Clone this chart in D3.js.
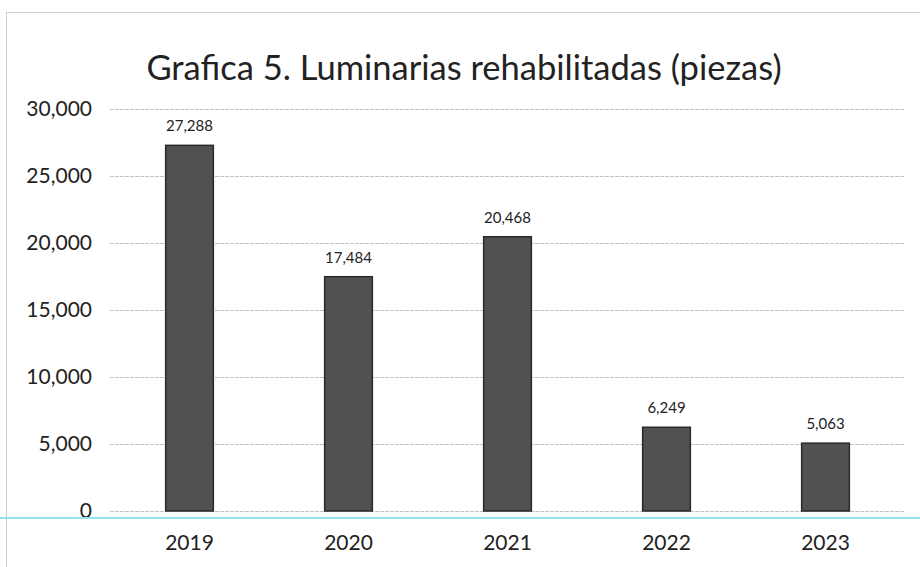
<!DOCTYPE html>
<html>
<head>
<meta charset="utf-8">
<script src="https://cdn.jsdelivr.net/npm/d3@7"></script>
<style>
  body { margin: 0; background: #fff; }
  svg { display: block; font-family: Lato, "Open Sans", sans-serif; }
</style>
</head>
<body>
<svg id="chart" width="920" height="567"></svg>
<script>
// Data
const years = ["2019", "2020", "2021", "2022", "2023"];
const values = [27288, 17484, 20468, 6249, 5063];
const yTicks = [0, 5000, 10000, 15000, 20000, 25000, 30000];

const svg = d3.select("#chart");
const margin = { top: 109, right: 15, bottom: 56, left: 110 };
const width = 920 - margin.left - margin.right;
const height = 567 - margin.top - margin.bottom;

// outer frame (dotted, like the scanned box)
svg.append("rect")
  .attr("x", 6.5).attr("y", 12.5)
  .attr("width", 930).attr("height", 560)
  .attr("fill", "none")
  .attr("stroke", "#9a9a9a")
  .attr("stroke-dasharray", "1,1");

// title
svg.append("text")
  .attr("x", 464).attr("y", 80)
  .attr("text-anchor", "middle")
  .attr("font-size", 34.5)
  .attr("fill", "#222")
  .text("Grafica 5. Luminarias rehabilitadas (piezas)");

const g = svg.append("g").attr("transform", `translate(${margin.left},${margin.top})`);

const x = d3.scaleBand().domain(years).range([0, width]).paddingInner(0.7).paddingOuter(0.35);
const y = d3.scaleLinear().domain([0, 30000]).range([height, 0]);

// gridlines + y labels
const yAxis = g.append("g").attr("class", "axis")
  .call(d3.axisLeft(y).tickValues(yTicks).tickSize(-width).tickPadding(18).tickFormat(d3.format(",")));
yAxis.select(".domain").remove();
yAxis.selectAll(".tick line").attr("stroke", "#c2c2c2").attr("stroke-dasharray", "4,1");
yAxis.selectAll(".tick text").attr("font-size", 21).attr("fill", "#222").attr("font-family", "Lato, 'Open Sans', sans-serif");

// bars
g.selectAll(".bar")
  .data(values)
  .enter()
  .append("rect")
  .attr("class", "bar")
  .attr("x", (d, i) => x(years[i]))
  .attr("y", d => y(d))
  .attr("width", x.bandwidth())
  .attr("height", d => height - y(d))
  .attr("fill", "#515151")
  .attr("stroke", "#2a2a2a")
  .attr("stroke-width", 1.5);

// data labels
g.selectAll(".label")
  .data(values)
  .enter()
  .append("text")
  .attr("class", "label")
  .attr("x", (d, i) => x(years[i]) + x.bandwidth() / 2)
  .attr("y", d => y(d) - 14)
  .attr("text-anchor", "middle")
  .attr("font-size", 15)
  .attr("fill", "#222")
  .text(d => d3.format(",")(d));

// x labels
const xAxis = g.append("g").attr("class", "axis")
  .attr("transform", `translate(0,${height})`)
  .call(d3.axisBottom(x).tickSize(0).tickPadding(24));
xAxis.select(".domain").remove();
xAxis.selectAll(".tick text").attr("font-size", 21).attr("fill", "#222").attr("font-family", "Lato, 'Open Sans', sans-serif");

// cyan scan line across the page
svg.append("line")
  .attr("x1", 0).attr("x2", 920)
  .attr("y1", 518).attr("y2", 518)
  .attr("stroke", "#8fe3ea")
  .attr("stroke-width", 2);
</script>
</body>
</html>
